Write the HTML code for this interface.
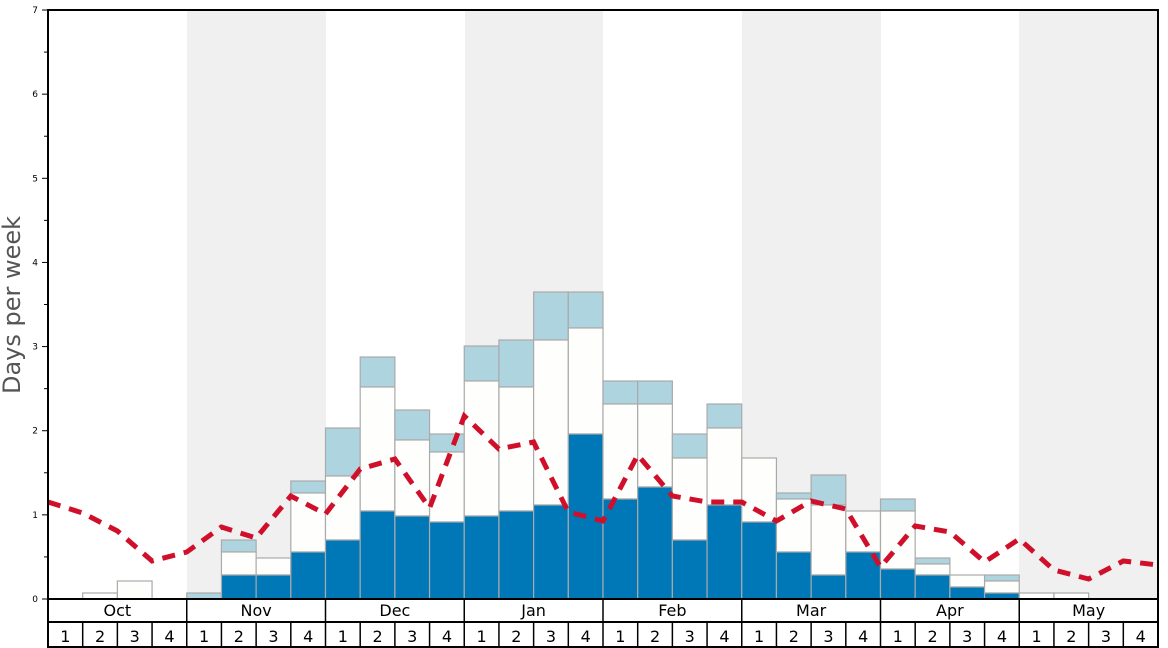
<!DOCTYPE html><html><head><style>body{margin:0;background:#fff}svg{display:block;font-family:"DejaVu Sans","Liberation Sans",sans-serif}</style></head><body>
<svg width="1168" height="648" viewBox="0 0 1168 648">
<rect x="187" y="10" width="139" height="589" fill="#f0f0f0"/>
<rect x="465" y="10" width="138" height="589" fill="#f0f0f0"/>
<rect x="742" y="10" width="139" height="589" fill="#f0f0f0"/>
<rect x="1019" y="10" width="139" height="589" fill="#f0f0f0"/>
<g id="bars" stroke="#aaa" stroke-width="1.2"></g>
<polyline id="ln" fill="none" stroke="#d0102a" stroke-width="5" stroke-dasharray="13,9" points=""/>
<g stroke="#000" stroke-width="2" fill="none">
<rect x="48" y="10" width="1110" height="637"/>
<line x1="48" y1="599" x2="1158" y2="599"/>
<line x1="48" y1="622" x2="1158" y2="622"/>
</g>
<g id="grid" stroke="#000" stroke-width="1.5"></g>
<g id="txt" fill="#000"></g>
<text transform="translate(20,305) rotate(-90)" text-anchor="middle" font-size="24" fill="#555">Days per week</text>
</svg>
<script>
const ns="http://www.w3.org/2000/svg";
function el(p,t,a,txt){const e=document.createElementNS(ns,t);for(const k in a)e.setAttribute(k,a[k]);if(txt!=null)e.textContent=txt;p.appendChild(e);return e;}
const W=(1158-48)/32, X=k=>48+W*k;
const B=[[599,599,599],[599,593,593],[599,581,581],[599,599,599],[599,599,593],[575,552,540],[575,558,558],[552,493,481],
[540,476,428],[511,387,357],[516,440,410],[522,452,434],[516,381,346],[511,387,340],[505,340,292],[434,328,292],
[499,404,381],[487,404,381],[540,458,434],[505,428,404],[522,458,458],[552,499,493],[575,505,475],[552,511,511],
[569,511,499],[575,564,558],[587,575,575],[593,581,575],[599,593,593],[599,593,593],[599,599,599],[599,599,599]];
const g=document.getElementById('bars');
B.forEach((b,i)=>{const x=X(i),w=W;
 if(b[2]<b[1])el(g,'rect',{x,y:b[2],width:w,height:b[1]-b[2],fill:'#aed4e0'});
 if(b[1]<b[0])el(g,'rect',{x,y:b[1],width:w,height:b[0]-b[1],fill:'#fefefc'});
 if(b[0]<599)el(g,'rect',{x,y:b[0],width:w,height:599-b[0],fill:'#0077b6'});
});
const L=[502,513,531,561,552,527,538,496,514,469,459,508,416,449,442,512,521,455,496,502,502,521,501,509,567,526,532,562,539,570,579,561,565];
document.getElementById('ln').setAttribute('points',L.map((y,k)=>X(k).toFixed(1)+','+y).join(' '));
const gr=document.getElementById('grid'),t=document.getElementById('txt');
for(let m=1;m<8;m++)el(gr,'line',{x1:X(m*4),y1:599,x2:X(m*4),y2:647});
for(let k=1;k<32;k++)if(k%4)el(gr,'line',{x1:X(k),y1:622,x2:X(k),y2:647});
const M=['Oct','Nov','Dec','Jan','Feb','Mar','Apr','May'];
M.forEach((m,i)=>el(t,'text',{x:X(i*4+2),y:616,'text-anchor':'middle','font-size':16},m));
for(let k=0;k<32;k++)el(t,'text',{x:X(k)+W/2,y:642,'text-anchor':'middle','font-size':16},(k%4)+1);
const U=84.14;
for(let v=0;v<=7;v++){const y=599-v*U;el(gr,'line',{x1:42,y1:y,x2:48,y2:y,'stroke-width':1});
 el(t,'text',{x:38,y:y+3,'text-anchor':'end','font-size':9},v);
 if(v<7)el(gr,'line',{x1:44,y1:y-U/2,x2:48,y2:y-U/2,'stroke-width':1});}
</script>
</body></html>
